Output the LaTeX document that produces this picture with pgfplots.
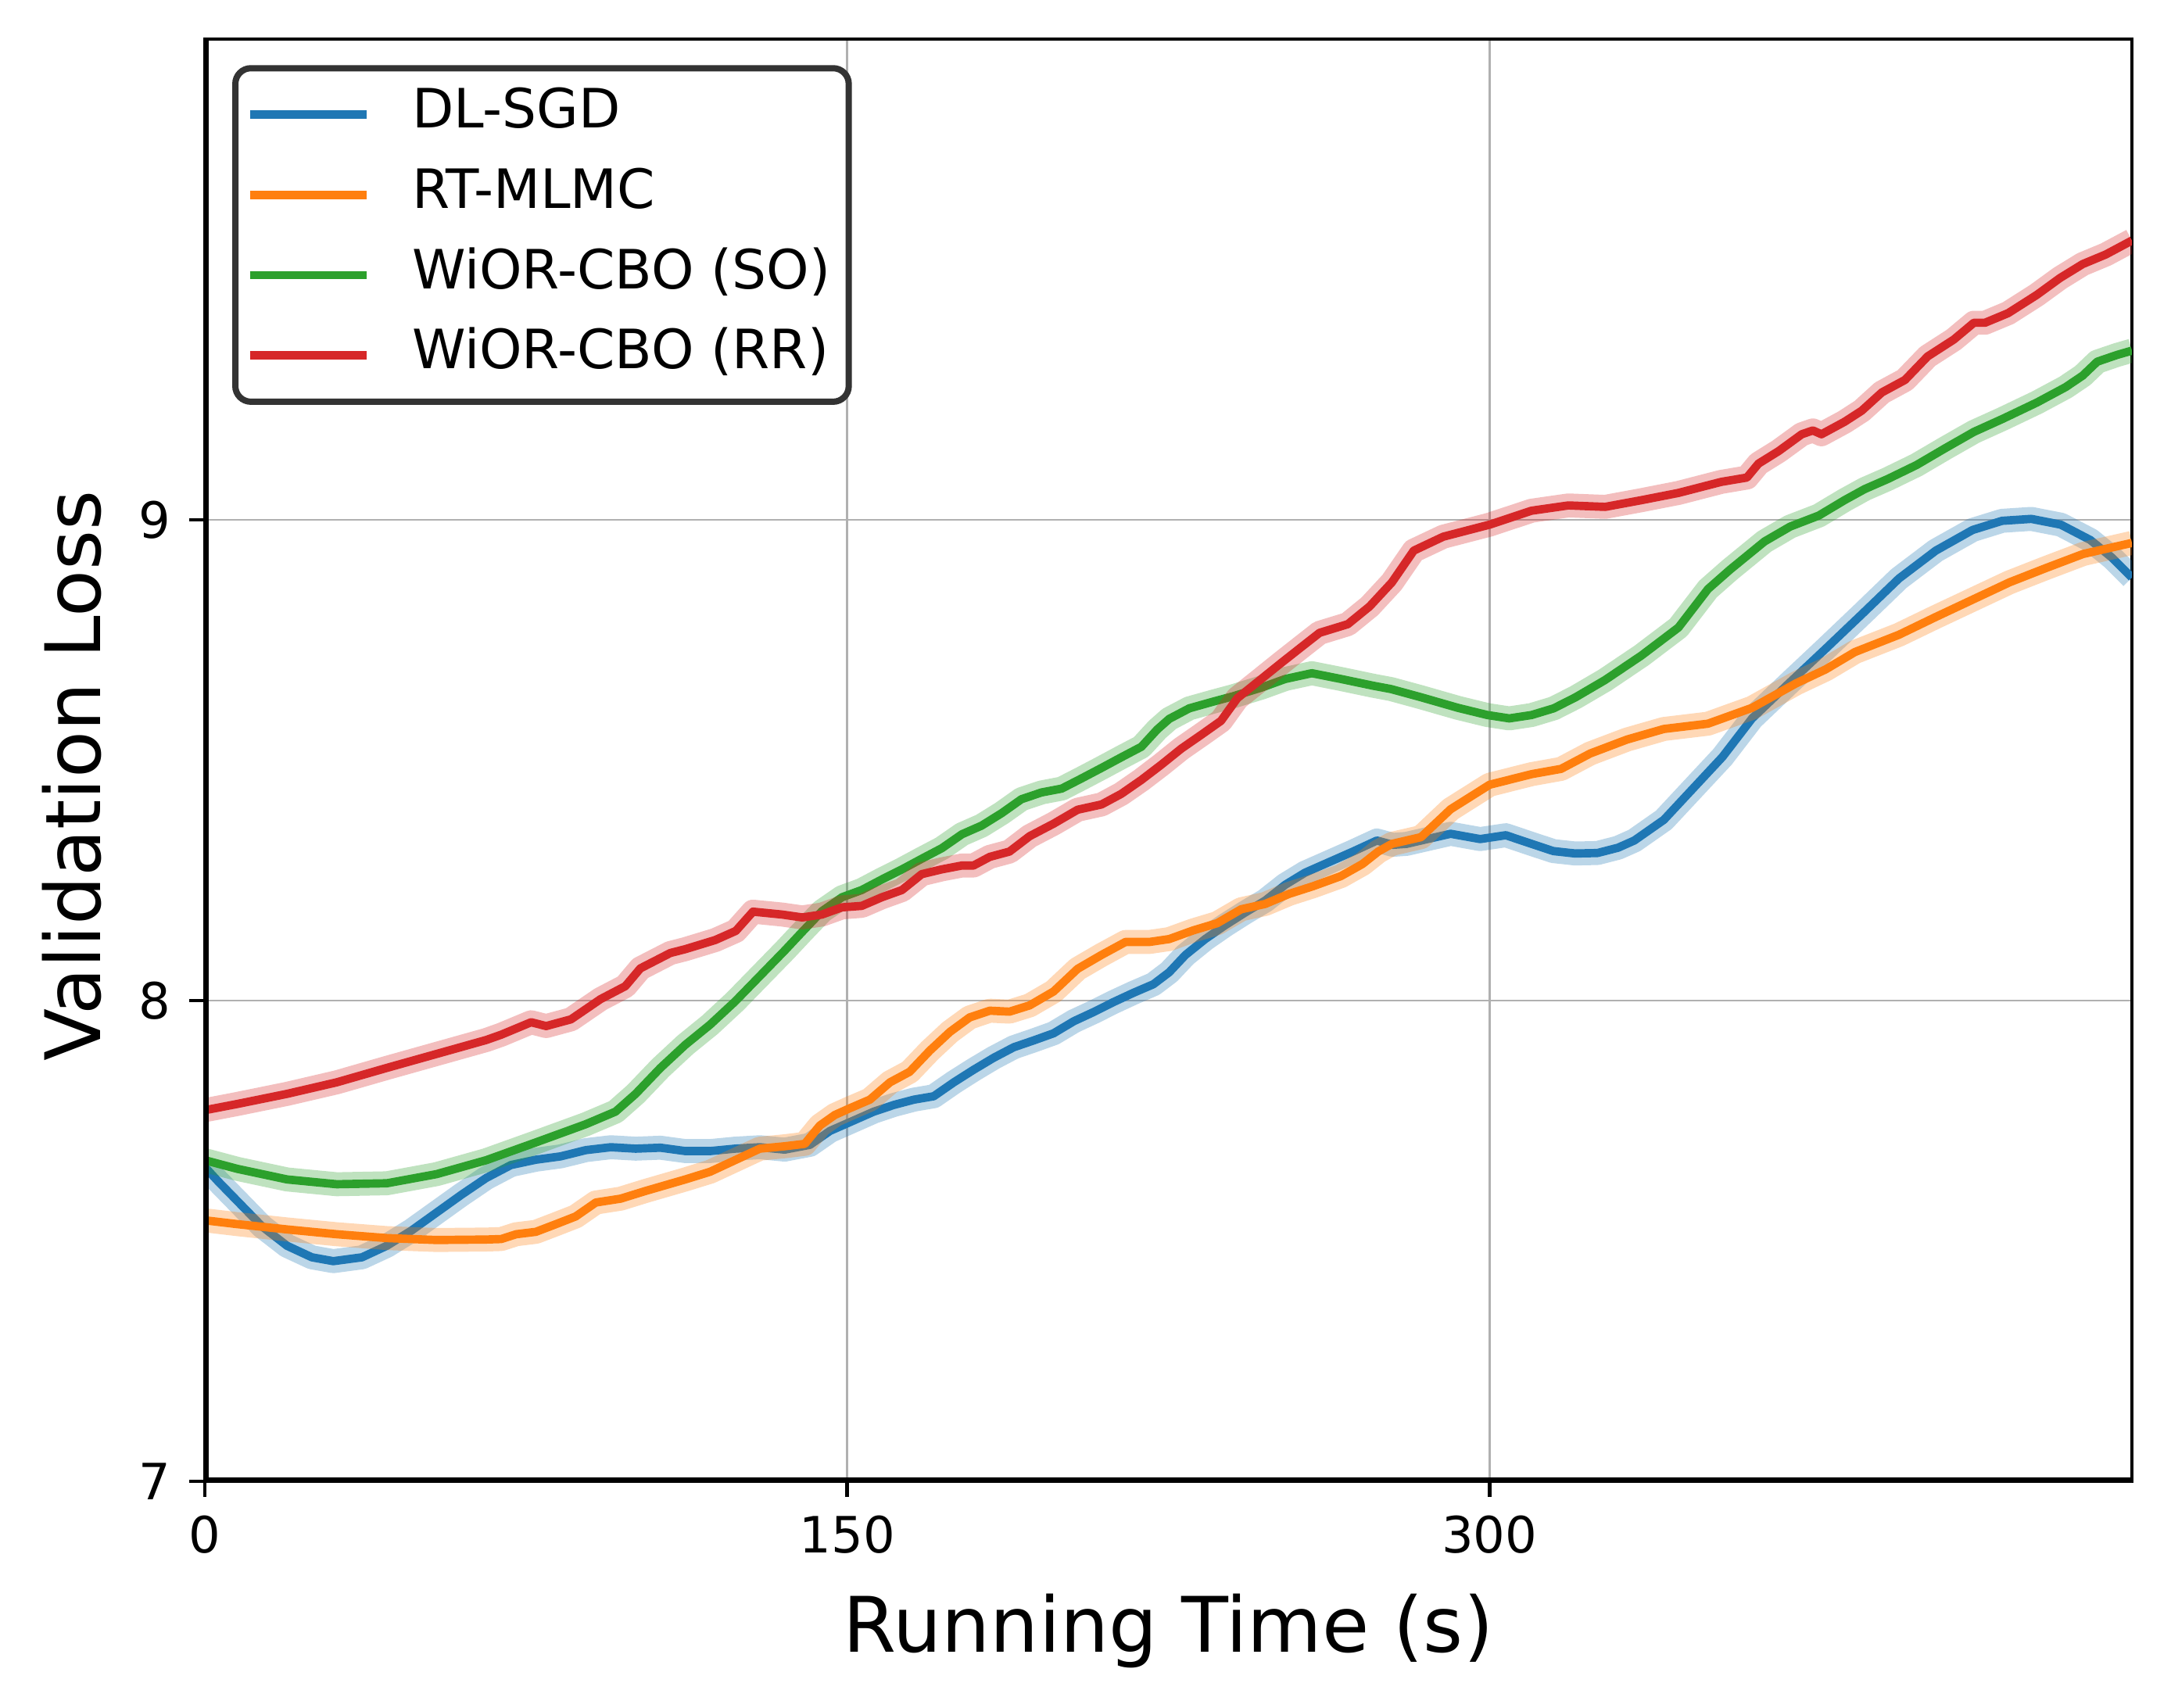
\documentclass[border=0pt]{standalone}
\usepackage{fontspec}
\setmainfont{DejaVu Sans}
\usepackage{pgfplots}
\usepackage{pgfplotstable}
\pgfplotsset{compat=1.18}
\definecolor{tabblue}{HTML}{1F77B4}
\definecolor{taborange}{HTML}{FF7F0E}
\definecolor{tabgreen}{HTML}{2CA02C}
\definecolor{tabred}{HTML}{D62728}
\definecolor{gridgray}{HTML}{B0B0B0}

\pgfplotstableread{
t y
0 7.654
3 7.625
7.6 7.583
13.4 7.530
19.2 7.490
25 7.466
30 7.458
36.7 7.466
42.5 7.490
48.3 7.522
54.1 7.559
59.9 7.596
65.7 7.631
71.5 7.658
77.3 7.669
83.1 7.676
89 7.689
94.8 7.695
100.6 7.692
106.4 7.694
112.2 7.687
118 7.687
123.8 7.692
129.6 7.695
135.4 7.690
141.3 7.700
146 7.729
150.6 7.747
156.2 7.769
160.9 7.783
165.6 7.794
170.2 7.801
174.9 7.830
179.5 7.856
184.2 7.881
188.9 7.903
193.5 7.917
198.2 7.932
202.9 7.957
207.5 7.976
212.2 7.997
216.8 8.016
221.5 8.034
225.2 8.059
229 8.095
233.6 8.128
238.3 8.157
242.9 8.183
247.6 8.208
252.3 8.241
256.9 8.266
262.5 8.288
268.1 8.310
273.7 8.333
277.4 8.324
280.6 8.326
285 8.335
290.9 8.347
297.8 8.336
303.8 8.344
309.8 8.326
314.9 8.311
320 8.306
325.2 8.307
330 8.318
333.8 8.333
340.7 8.376
347.6 8.442
354.4 8.507
361.3 8.587
369.9 8.660
378.5 8.732
387.1 8.805
395.6 8.878
404.2 8.936
412.8 8.979
419.7 8.998
426.5 9.002
433.4 8.990
440.3 8.958
445.4 8.921
450 8.880
}\dlsgd

\pgfplotstableread{
t y
0 7.543
7.6 7.535
19.2 7.524
30.8 7.514
42.5 7.506
54.1 7.502
65.7 7.503
69.2 7.504
72.7 7.514
77.3 7.519
82 7.535
86.6 7.551
91.3 7.580
97.1 7.588
102.9 7.604
112.2 7.628
118 7.644
123.8 7.668
129.6 7.692
135.4 7.697
140.1 7.702
143.6 7.740
147.1 7.762
150.6 7.776
155.3 7.794
160 7.830
164.6 7.852
169.3 7.896
174 7.935
178.6 7.965
183.3 7.979
187.9 7.977
192.6 7.990
198.2 8.019
203.8 8.066
209.4 8.095
215 8.122
220.6 8.122
225.2 8.128
230.8 8.146
236.4 8.161
242 8.190
247.6 8.201
253.2 8.222
258.8 8.238
265.3 8.259
270.3 8.284
274 8.310
277.2 8.326
284 8.340
290.9 8.398
300 8.449
309.8 8.471
316.7 8.482
323.5 8.514
332.1 8.543
340.7 8.565
351 8.576
361.3 8.609
371.6 8.660
378.5 8.689
385.3 8.725
395.6 8.761
404.2 8.798
412.8 8.834
421.4 8.870
430 8.900
438.6 8.929
450 8.952
}\rtmlmc

\pgfplotstableread{
t y
0 7.668
7.6 7.650
19.2 7.628
30.8 7.618
42.5 7.620
54.1 7.639
65.7 7.668
77.3 7.705
89 7.743
95.9 7.769
100.6 7.806
106.4 7.860
112.2 7.908
118 7.950
123.8 7.998
129.6 8.051
135.4 8.104
139.5 8.143
144.1 8.186
148.8 8.215
153.4 8.230
158.1 8.252
162.8 8.273
167.4 8.295
172.1 8.317
176.8 8.346
181.4 8.364
186.1 8.390
190.7 8.419
195.4 8.433
200.1 8.441
204.7 8.462
209.4 8.484
214 8.506
218.7 8.528
222.4 8.564
225.2 8.586
229.9 8.608
235.5 8.622
240.1 8.633
246.7 8.651
252.3 8.669
258.5 8.681
265.3 8.669
272.8 8.655
277 8.648
284 8.631
292.6 8.609
299.5 8.594
304.6 8.587
309.8 8.594
315 8.608
320.1 8.631
327 8.667
335.5 8.718
344.1 8.776
351 8.856
356.1 8.896
364.2 8.955
370.2 8.986
376.9 9.009
382.9 9.041
387.6 9.064
393 9.085
399.7 9.114
406.4 9.149
413.1 9.183
419.8 9.210
427.8 9.244
434.5 9.276
438.5 9.300
441.9 9.329
446.5 9.343
450 9.352
}\wiorso

\pgfplotstableread{
t y
0 7.772
7.6 7.785
19.2 7.806
30.8 7.830
42.5 7.860
54.1 7.889
65.7 7.918
69.2 7.929
76.2 7.955
79.7 7.947
85.5 7.961
92.4 8.003
98.2 8.030
101.7 8.067
108.7 8.099
112.2 8.107
119.2 8.126
124 8.145
128 8.185
134.8 8.179
139.5 8.173
144.1 8.179
148.8 8.194
153.4 8.197
158.1 8.215
162.8 8.230
167.4 8.263
172.1 8.273
176.8 8.281
179.5 8.281
183.3 8.299
187.9 8.310
192.6 8.342
198.2 8.368
203.8 8.397
209.4 8.408
214 8.430
218.7 8.459
223.4 8.491
228 8.524
232.7 8.553
237.3 8.582
241.1 8.629
246.7 8.669
251.3 8.702
256 8.735
260.3 8.765
266.9 8.783
272 8.820
277.2 8.870
282.3 8.936
289.2 8.965
300 8.990
309.8 9.019
318.4 9.030
327 9.027
335.5 9.041
344.1 9.056
354.1 9.079
360.1 9.088
362.8 9.117
367.5 9.143
372.9 9.178
375.5 9.186
377.5 9.178
382.9 9.204
386.9 9.227
391.6 9.265
397 9.291
402.3 9.340
408.4 9.375
413.1 9.410
415.7 9.410
421.1 9.430
427.8 9.468
433.2 9.503
438.5 9.532
443.9 9.552
450 9.581
}\wiorrr

\begin{document}
\begin{tikzpicture}
\path[use as bounding box] (-39.3pt,-43.35pt) rectangle (377.25pt,284.25pt);
\begin{axis}[
  at={(0pt,0pt)}, anchor=south west,
  scale only axis,
  width=369.75pt, height=276.75pt,
  xmin=0, xmax=450, ymin=7, ymax=10,
  xtick={0,150,300}, ytick={7,8,9},
  xtick pos=bottom, ytick pos=left,
  tick align=outside,
  major tick length=3pt,
  every tick/.style={black, line width=0.7pt},
  /pgf/number format/assume math mode=true,
  ticklabel style={font=\fontsize{9.6}{11}\selectfont},
  grid=major,
  grid style={gridgray, line width=0.4pt},
  axis line style={black, line width=0.5pt},
  xlabel={Running Time (s)},
  ylabel={Validation Loss},
  label style={font=\fontsize{14.7}{17}\selectfont},
  xlabel style={at={(axis description cs:0.5,0)}, anchor=center, yshift=-28.7pt},
  ylabel style={at={(axis description cs:-0.069,0.489)}, anchor=center},
  legend cell align=left,
  legend image code/.code={\draw[#1, line width=1.6pt] (0pt,0pt) -- (22.4pt,0pt);},
  legend style={
    at={(0.0142,0.982)}, anchor=north west,
    draw=black!80, line width=1.2pt, rounded corners=3pt,
    fill=white, fill opacity=0.8, text opacity=1,
    font=\fontsize{10.4}{12}\selectfont,
    inner xsep=2pt, inner ysep=2.4pt,
    row sep=2.4pt,
    nodes={inner sep=1.5pt, text height=7.6pt, text depth=2.4pt},
    /tikz/every odd column/.append style={column sep=6.4pt},
  },
]
\addplot[tabblue, opacity=0.3, line width=4.6pt, line join=round, forget plot] table {\dlsgd};
\addplot[tabblue, line width=1.6pt, line join=round] table {\dlsgd};
\addlegendentry{DL-SGD}
\addplot[taborange, opacity=0.3, line width=4.6pt, line join=round, forget plot] table {\rtmlmc};
\addplot[taborange, line width=1.6pt, line join=round] table {\rtmlmc};
\addlegendentry{RT-MLMC}
\addplot[tabgreen, opacity=0.3, line width=4.6pt, line join=round, forget plot] table {\wiorso};
\addplot[tabgreen, line width=1.6pt, line join=round] table {\wiorso};
\addlegendentry{WiOR-CBO (SO)}
\addplot[tabred, opacity=0.3, line width=4.6pt, line join=round, forget plot] table {\wiorrr};
\addplot[tabred, line width=1.6pt, line join=round] table {\wiorrr};
\addlegendentry{WiOR-CBO (RR)}
\draw[black, line width=1.4pt] (rel axis cs:0,1) -- (rel axis cs:0,0) -- (rel axis cs:1,0);
\end{axis}
\end{tikzpicture}
\end{document}
